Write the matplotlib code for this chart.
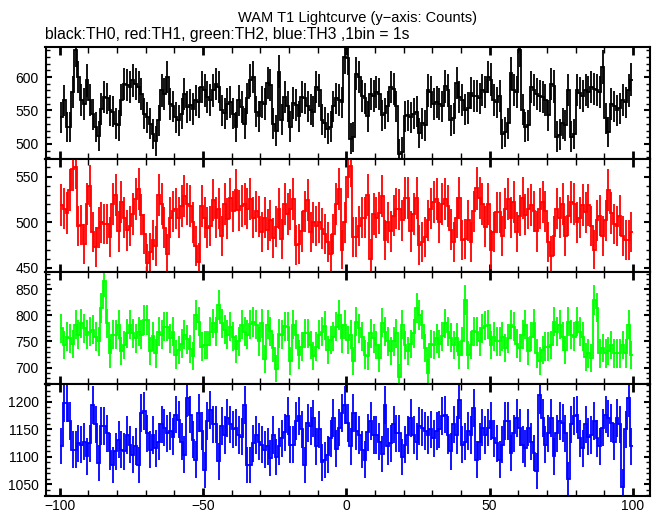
import numpy as np
import matplotlib
matplotlib.use('Agg')
import matplotlib.pyplot as plt
from matplotlib.ticker import MultipleLocator

plt.rcParams['font.family'] = ['Liberation Sans', 'DejaVu Sans']
plt.rcParams['font.size'] = 10

# 1 s bins from -100 to 100
bin_edges = np.arange(-100, 101)

# counts per bin
th0 = [540, 565, 525, 525, 578, 640, 600, 566, 560, 595,
       566, 544, 525, 512, 552, 570, 568, 550, 548, 530,
       528, 566, 590, 588, 585, 595, 590, 585, 575, 545,
       540, 530, 515, 505, 535, 580, 575, 600, 560, 556,
       540, 535, 545, 575, 555, 558, 552, 565, 562, 585,
       580, 570, 566, 580, 590, 585, 550, 546, 560, 563,
       545, 525, 565,
       555, 530, 568, 595, 600, 548, 541, 563, 560, 591,
       588, 530, 520, 608, 536, 570, 556, 526, 561, 558,
       541, 570, 568, 556, 551, 548, 585, 580, 536, 532,
       523, 526, 556, 568, 566, 562, 630, 628, 508, 510,
       605, 600, 571, 568, 541, 575, 572, 578, 575, 543,
       546, 556, 585, 582, 556, 485, 488, 541, 543, 540,
       545, 548, 516, 531, 528, 580, 577, 560, 563,
       560, 556, 586, 580, 535, 538, 591, 570, 566, 551,
       554, 576, 572, 571, 568, 581, 578, 600, 596, 566,
       562, 571, 515, 518, 531, 606, 581, 577, 641, 551,
       525, 528, 585, 581, 575, 572, 570, 566, 543, 590,
       586, 511, 514, 531, 528, 581, 511, 515, 581, 576,
       572, 581, 578, 585, 582, 581, 577, 615, 538, 518,
       560, 556, 550, 553, 566, 562, 580, 596]

th1 = [519, 515, 510, 535, 558, 560, 496, 497, 476, 520,
       540, 489, 473, 494, 500, 498, 498, 484, 520, 530,
       490, 522, 505, 491, 496, 509, 525, 536, 508, 487,
       455, 467, 480, 474, 530, 520, 494, 465, 505, 512,
       515, 505, 518, 529, 520, 518, 500, 474, 456, 518,
       505, 494, 496, 524, 505, 515, 485, 520, 504, 526,
       512, 535, 513, 518,
       520, 515, 525, 505, 512, 506, 489, 505, 492, 502,
       483, 495, 515, 482, 520, 509, 514, 525, 475, 476,
       490, 512, 524, 489, 500, 496, 500, 493, 487, 478,
       465, 487, 520, 536, 470, 500, 550, 562, 484, 484,
       496, 505, 505, 530, 460, 509, 505, 510, 529, 480,
       500, 490, 507, 515, 514, 502, 527, 527, 490, 509,
       527, 475, 478, 484, 502, 515, 522, 525,
       500, 520, 525, 518, 492, 478, 505, 527, 480, 482,
       502, 478, 512, 537, 527, 520, 495, 520, 470, 489,
       511, 511, 485, 515, 525, 505, 522, 489, 507, 527,
       508, 515, 519, 512, 490, 515, 522, 512, 478, 463,
       485, 515, 505, 520, 485, 507, 522, 520, 500, 505,
       519, 511, 519, 496, 470, 502, 507, 485, 502, 535,
       510, 498, 496, 507, 485, 481, 481, 489]

th2 = [775, 743, 759, 756, 745, 782, 763, 785, 775, 763,
       769, 772, 759, 750, 814, 865, 785, 727, 763, 763,
       782, 731, 743, 766, 782, 766, 756, 769, 763, 791,
       791, 731, 760, 727, 769, 763, 778, 778, 756, 769,
       725, 733, 746, 763, 754, 735, 722, 801, 788, 740,
       743, 743, 769, 785, 769, 820, 785, 772, 763, 778,
       759, 735, 750, 782, 769, 763,
       783, 787, 782, 750, 785, 717, 782, 770, 737, 698,
       765, 763, 779, 778, 712, 782, 763, 725, 740, 766,
       766, 743, 722, 740, 763, 769, 780, 733, 753, 759,
       778, 801, 756, 782, 753, 763, 713, 788, 775, 759,
       725, 723, 766, 756, 743, 718, 786, 769, 750, 731,
       750, 766, 681, 782, 743, 731, 745, 766, 814, 801,
       782, 737, 690, 745, 743, 756,
       745, 760, 785, 769, 757, 743, 757, 724, 750, 830,
       724, 743, 770, 769, 750, 775, 780, 782, 743, 759,
       750, 750, 759, 737, 756, 782, 778, 746, 737, 763,
       782, 731, 759, 785, 727, 713, 734, 740, 740, 743,
       788, 769, 782, 759, 734, 788, 763, 759, 788, 769,
       759, 720, 727, 718, 830, 815, 727, 737, 727, 731,
       743, 727, 727, 727, 743, 727, 782, 724]

th3 = [1120, 1198, 1198, 1165, 1113, 1113, 1125, 1122, 1128, 1101,
       1125, 1195, 1159, 1089, 1156, 1156, 1143, 1110, 1086, 1110,
       1131, 1113, 1110, 1140, 1122, 1104, 1119, 1086, 1180, 1183,
       1143, 1113, 1140, 1116, 1128, 1159, 1153, 1143, 1147, 1137,
       1177, 1168, 1128, 1104, 1207, 1177, 1131, 1095, 1180, 1147,
       1077, 1165, 1186, 1159, 1159, 1092, 1156, 1140, 1171, 1159,
       1150, 1153, 1140, 1137, 1195, 1085,
       1085, 1125, 1140, 1128, 1122, 1113, 1119, 1098, 1140, 1100,
       1119, 1134, 1145, 1175, 1122, 1122, 1165, 1175, 1150, 1086,
       1162, 1156, 1170, 1119, 1150, 1090, 1094, 1104, 1134, 1171,
       1115, 1153, 1180, 1195, 1162, 1119, 1180, 1147, 1140, 1113,
       1095, 1145, 1165, 1140, 1140, 1128, 1105, 1195, 1119, 1125,
       1159, 1143, 1143, 1100, 1122, 1140, 1171, 1140, 1128, 1156,
       1153, 1147, 1140, 1150, 1134, 1147,
       1150, 1175, 1177, 1140, 1110, 1159, 1140, 1204, 1122, 1128,
       1147, 1140, 1189, 1095, 1128, 1153, 1140, 1153, 1165, 1134,
       1125, 1095, 1122, 1165, 1165, 1107, 1143, 1171, 1153, 1122,
       1116, 1153, 1128, 1107, 1074, 1213, 1171, 1122, 1143, 1171,
       1101, 1143, 1165, 1162, 1143, 1059, 1159, 1174, 1177, 1134,
       1116, 1159, 1137, 1140, 1165, 1134, 1119, 1153, 1177, 1170,
       1162, 1128, 1171, 1159, 1045, 1150, 1207, 1119]

series = [th0, th1, th2, th3]
colors = ['black', '#ff0000', '#00ff00', '#0000ff']
ylims = [(477, 645), (446, 569), (669, 884), (1029, 1233)]
yticks = [[500, 550, 600], [450, 500, 550], [700, 750, 800, 850],
          [1050, 1100, 1150, 1200]]

W, H = 662, 515
fig = plt.figure(figsize=(W / 100, H / 100), dpi=100)

left, right = 45.5, 650
top, ph = 47, 112.25
centers = (bin_edges[:-1] + bin_edges[1:]) / 2

for k in range(4):
    y = np.array(series[k], dtype=float)
    ax = fig.add_axes([left / W, 1 - (top + ph * (k + 1)) / H,
                       (right - left) / W, ph / H])
    ax.stairs(y, bin_edges, baseline=None, color=colors[k], lw=1.3)
    ax.errorbar(centers, y, yerr=np.sqrt(y), fmt='none',
                ecolor=colors[k], elinewidth=1.3, capsize=0)
    ax.set_xlim(-105, 106)
    ax.set_ylim(*ylims[k])
    ax.set_yticks(yticks[k])
    ax.yaxis.set_minor_locator(MultipleLocator(10))
    ax.xaxis.set_major_locator(MultipleLocator(50))
    ax.xaxis.set_minor_locator(MultipleLocator(10))
    ax.tick_params(which='both', direction='in', top=True, right=True)
    ax.tick_params(axis='x', which='major', length=6, width=2)
    ax.tick_params(axis='x', which='minor', length=4, width=1)
    ax.tick_params(axis='y', which='major', length=4, width=1.5)
    ax.tick_params(axis='y', which='minor', length=3, width=1)
    ax.tick_params(axis='y', labelsize=10, pad=5)
    for s in ax.spines.values():
        s.set_linewidth(1.5)
    if k < 3:
        ax.tick_params(axis='x', labelbottom=False)
    else:
        ax.tick_params(axis='x', labelsize=10, pad=2)

fig.text(357 / W, 1 - 18 / H, 'WAM T1 Lightcurve (y\u2212axis: Counts)',
         ha='center', va='center', fontsize=10.5)
fig.text(45 / W, 1 - 35 / H, 'black:TH0, red:TH1, green:TH2, blue:TH3 ,1bin = 1s',
         ha='left', va='center', fontsize=11.3)

fig.savefig('out.png', dpi=100)
